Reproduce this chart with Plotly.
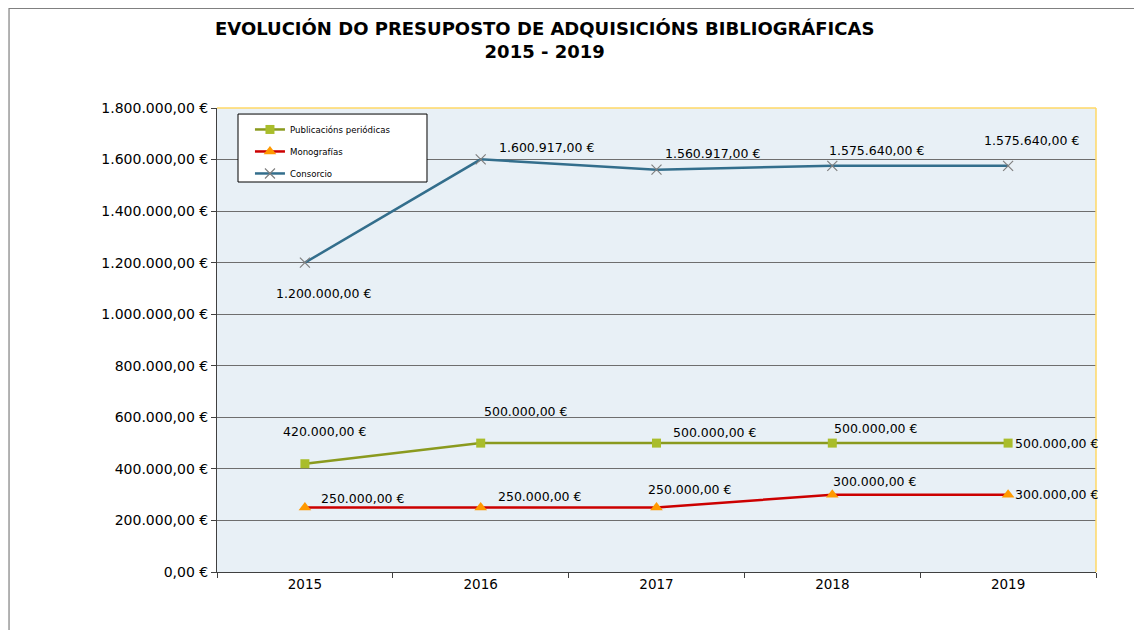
import plotly.graph_objects as go

years = ["2015", "2016", "2017", "2018", "2019"]
publicacions = [420000, 500000, 500000, 500000, 500000]
monografias = [250000, 250000, 250000, 300000, 300000]
consorcio = [1200000, 1600917, 1560917, 1575640, 1575640]

xs = list(range(len(years)))

def eur(v):
    s = f"{v:,.2f}"
    s = s.replace(",", "X").replace(".", ",").replace("X", ".")
    return s + " €"

fig = go.Figure()
fig.add_trace(go.Scatter(x=xs, y=publicacions, name="Publicacións periódicas", mode="lines+markers",
                         legendgroup="a",
                         line=dict(color="#8A9A1E", width=2.5),
                         marker=dict(symbol="square", size=9, color="#A9BD2B")))
fig.add_trace(go.Scatter(x=xs, y=monografias, name="Monografías", mode="lines+markers",
                         legendgroup="b",
                         line=dict(color="#CC0000", width=2.5),
                         marker=dict(symbol="triangle-up", size=11, color="#FF9900")))
fig.add_trace(go.Scatter(x=xs, y=consorcio, name="Consorcio", mode="lines+markers",
                         legendgroup="c",
                         line=dict(color="#336E8C", width=2.5),
                         marker=dict(symbol="x-thin", size=10, line=dict(color="#808080", width=1.2), color="#808080")))

# label offsets (pixels)
off_c = [(19, -31), (66, 12), (56, 16), (44, 15), (23, 25)]
off_p = [(20, 32), (45, 32), (58, 11), (44, 15), (49, 0)]
off_m = [(58, 9), (59, 11), (33, 18), (43, 13), (49, 0)]

ann = []
for series, offs in ((consorcio, off_c), (publicacions, off_p), (monografias, off_m)):
    for i, (v, (dx, dy)) in enumerate(zip(series, offs)):
        ann.append(dict(x=xs[i], y=v, text=eur(v), showarrow=False, xshift=dx, yshift=dy,
                        font=dict(family="DejaVu Sans, Verdana", size=12.5, color="#000000")))

ann.append(dict(text="<b>EVOLUCIÓN DO PRESUPOSTO DE ADQUISICIÓNS BIBLIOGRÁFICAS<br>2015 - 2019</b>",
                xref="paper", yref="paper", x=0.373, y=1.1455, showarrow=False, xanchor="center", yanchor="middle",
                font=dict(family="DejaVu Sans, Verdana", size=18, color="#000000")))

shapes = [
    dict(type="rect", xref="paper", yref="paper", x0=-0.2366, y0=-0.3, x1=1.2, y1=1.2144,
         line=dict(color="#808080", width=1.2), layer="below"),
    dict(type="line", xref="paper", yref="paper", x0=0, y0=1, x1=1, y1=1, line=dict(color="#FFD966", width=1.5)),
    dict(type="line", xref="paper", yref="paper", x0=1, y0=0, x1=1, y1=1, line=dict(color="#FFD966", width=1.5)),
    # legend frame
    dict(type="rect", xref="paper", yref="paper", x0=0.0239, x1=0.2389, y0=0.8405, y1=0.987,
         fillcolor="white", line=dict(color="#000000", width=1), layer="above"),
]

fig.update_layout(
    width=1142, height=630,
    margin=dict(l=209, r=54, t=100, b=66),
    paper_bgcolor="white", plot_bgcolor="#E8F0F6",
    separators=",.",
    font=dict(family="DejaVu Sans, Verdana", size=12, color="#000000"),
    showlegend=True,
    legend=dict(x=0.0375, y=0.985, xanchor="left", yanchor="top", bgcolor="rgba(0,0,0,0)",
                borderwidth=0, font=dict(size=8.6), tracegroupgap=3, itemwidth=30),
    annotations=ann,
    shapes=shapes,
    xaxis=dict(range=[-0.5, 4.5], tickvals=xs, ticktext=years, ticks="", showgrid=False, zeroline=False,
               showline=True, linecolor="#404040", linewidth=1,
               minor=dict(tickvals=[-0.5, 0.5, 1.5, 2.5, 3.5, 4.5], ticks="outside", ticklen=5, tickcolor="#404040", showgrid=False),
               tickfont=dict(size=13.5)),
    yaxis=dict(range=[0, 1800000], dtick=200000, tickformat=",.2f", ticksuffix=" €",
               ticks="outside", ticklen=5, tickcolor="#404040",
               showgrid=True, gridcolor="#6E6E6E", gridwidth=1, zeroline=False,
               showline=True, linecolor="#404040", linewidth=1, tickfont=dict(size=14)),
)

fig.write_html("out.html")
